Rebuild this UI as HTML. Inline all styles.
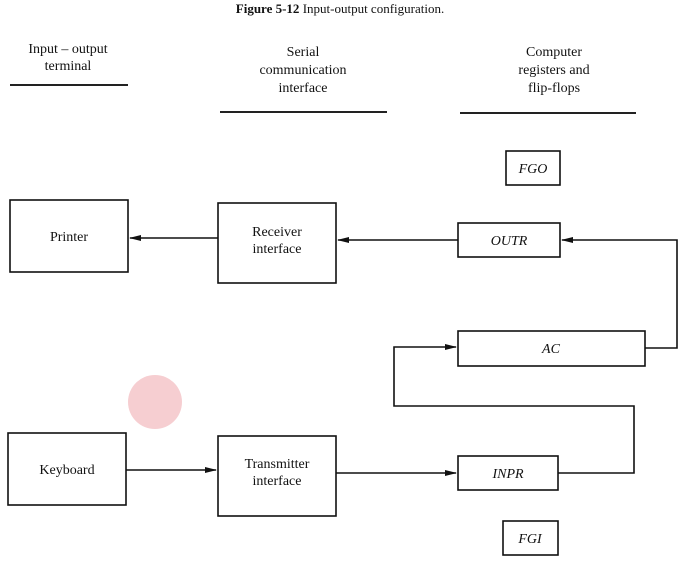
<!DOCTYPE html>
<html><head><style>
body{margin:0;background:#fff;}
svg text{font-family:"Liberation Serif",serif;fill:#111;}
</style></head><body>
<svg width="683" height="559" viewBox="0 0 683 559" xmlns="http://www.w3.org/2000/svg">
<defs><marker id="a" markerWidth="12" markerHeight="8" refX="11" refY="4" orient="auto" markerUnits="userSpaceOnUse"><path d="M0,1 L12,4 L0,7 Z" fill="#111"/></marker></defs>
<text x="340" y="13" font-size="13" text-anchor="middle" font-weight="bold">Figure 5-12 <tspan font-weight="normal">  Input-output configuration.</tspan></text>
<g font-size="14" text-anchor="middle">
<text x="68" y="53">Input – output</text><text x="68" y="70">terminal</text>
<text x="303" y="56">Serial</text><text x="303" y="74">communication</text><text x="303" y="92">interface</text>
<text x="554" y="56">Computer</text><text x="554" y="74">registers and</text><text x="554" y="92">flip-flops</text>
</g>
<g stroke="#222" stroke-width="2"><line x1="10" y1="85" x2="128" y2="85"/><line x1="220" y1="112" x2="387" y2="112"/><line x1="460" y1="113" x2="636" y2="113"/></g>
<circle cx="155" cy="402" r="27" fill="#f4c2c6" opacity="0.8"/>
<g fill="none" stroke="#111" stroke-width="1.6">
<rect x="10" y="200" width="118" height="72"/>
<rect x="218" y="203" width="118" height="80"/>
<rect x="8" y="433" width="118" height="72"/>
<rect x="218" y="436" width="118" height="80"/>
<rect x="506" y="151" width="54" height="34"/>
<rect x="458" y="223" width="102" height="34"/>
<rect x="458" y="331" width="187" height="35"/>
<rect x="458" y="456" width="100" height="34"/>
<rect x="503" y="521" width="55" height="34"/>
<line x1="218" y1="238" x2="130" y2="238" marker-end="url(#a)"/>
<line x1="458" y1="240" x2="338" y2="240" marker-end="url(#a)"/>
<polyline points="645,348 677,348 677,240 562,240" marker-end="url(#a)"/>
<line x1="126" y1="470" x2="216" y2="470" marker-end="url(#a)"/>
<line x1="336" y1="473" x2="456" y2="473" marker-end="url(#a)"/>
<polyline points="558,473 634,473 634,406 394,406 394,347 456,347" marker-end="url(#a)"/>
</g>
<g font-size="14" text-anchor="middle">
<text x="69" y="241">Printer</text>
<text x="277" y="236">Receiver</text><text x="277" y="253">interface</text>
<text x="67" y="474">Keyboard</text>
<text x="277" y="468">Transmitter</text><text x="277" y="485">interface</text>
</g>
<g font-size="14" text-anchor="middle" font-style="italic">
<text x="533" y="173">FGO</text>
<text x="509" y="245">OUTR</text>
<text x="551" y="353">AC</text>
<text x="508" y="478">INPR</text>
<text x="530" y="543">FGI</text>
</g>
</svg>
</body></html>
